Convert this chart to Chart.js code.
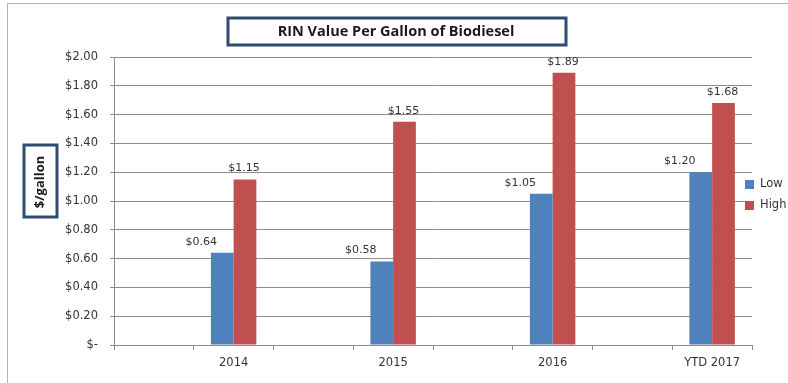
<!DOCTYPE html>
<html>
<head>
<meta charset="utf-8">
<script src="https://cdn.jsdelivr.net/npm/chart.js@4/dist/chart.umd.min.js"></script>
<style>
html,body{margin:0;padding:0;background:#fff;}
#wrap{width:788px;height:383px;position:relative;}
</style>
</head>
<body>
<div id="wrap"><canvas id="c" width="788" height="383"></canvas></div>
<script>
const categories = ["", "2014", "", "2015", "", "2016", "", "YTD 2017"];
const lowValues  = [null, 0.64, null, 0.58, null, 1.05, null, 1.20];
const highValues = [null, 1.15, null, 1.55, null, 1.89, null, 1.68];
const seriesNames = ["Low", "High"];
const chartTitle = "RIN Value Per Gallon of Biodiesel";
const yAxisTitle = "$/gallon";

const FONT = "'DejaVu Sans', sans-serif";
const TFONT = "'Open Sans', 'DejaVu Sans', sans-serif";
const BLUE = "#4f81bd", RED = "#c0504d";

function money(v){ return v === 0 ? "$-" : "$" + v.toFixed(2); }

const extras = {
  id: "extras",
  afterDraw(chart){
    const ctx = chart.ctx;
    ctx.save();
    // outer border
    ctx.strokeStyle = "#b4b4b4"; ctx.lineWidth = 1;
    ctx.strokeRect(7.5, 3.5, 800, 400);
    // title box
    ctx.strokeStyle = "#2f4b6e"; ctx.lineWidth = 3;
    ctx.strokeRect(228, 18, 338, 27);
    ctx.fillStyle = "#1a1a1a";
    ctx.font = "bold 14.5px " + TFONT;
    ctx.textAlign = "center"; ctx.textBaseline = "middle";
    ctx.fillText(chartTitle, 396, 31.5);
    // y axis title box
    ctx.strokeRect(24, 145, 33, 72);
    ctx.save();
    ctx.translate(40, 182);
    ctx.rotate(-Math.PI/2);
    ctx.font = "bold 13px " + TFONT;
    ctx.fillText(yAxisTitle, 0, 0);
    ctx.restore();
    // data labels
    ctx.font = "11px " + FONT;
    ctx.fillStyle = "#333";
    chart.data.datasets.forEach((ds, di) => {
      const meta = chart.getDatasetMeta(di);
      meta.data.forEach((bar, i) => {
        const v = ds.data[i];
        if (v == null) return;
        const dx = di === 0 ? -21 : -1;
        ctx.fillText(money(v), bar.x + dx, bar.y - 11);
      });
    });
    // legend
    ctx.textAlign = "left";
    ctx.font = "11.5px " + FONT;
    const items = [[seriesNames[0], BLUE, 184], [seriesNames[1], RED, 205]];
    items.forEach(([t, c, y]) => {
      ctx.fillStyle = c;
      ctx.fillRect(745, y - 4, 9, 9);
      ctx.fillStyle = "#333";
      ctx.fillText(t, 760, y);
    });
    ctx.restore();
  }
};

new Chart(document.getElementById("c"), {
  type: "bar",
  data: {
    labels: categories,
    datasets: [
      { label: seriesNames[0], data: lowValues, backgroundColor: BLUE, categoryPercentage: 0.57, barPercentage: 1.0 },
      { label: seriesNames[1], data: highValues, backgroundColor: RED, categoryPercentage: 0.57, barPercentage: 1.0 }
    ]
  },
  options: {
    responsive: false,
    animation: false,
    layout: { padding: { left: 0, right: 36, top: 57, bottom: 0 } },
    plugins: { legend: { display: false }, title: { display: false }, tooltip: { enabled: false } },
    scales: {
      x: {
        grid: { display: true, drawOnChartArea: false, drawTicks: true, tickLength: 5, color: "#8c8c8c", offset: true },
        border: { color: "#8c8c8c" },
        ticks: { autoSkip: false, maxRotation: 0, color: "#333", font: { family: FONT, size: 11.5 }, padding: 6 },
        afterFit(s){ s.height = 38; }
      },
      y: {
        min: 0, max: 2,
        ticks: { stepSize: 0.2, color: "#333", font: { family: FONT, size: 11.5 }, padding: 12,
          callback: v => money(v) },
        grid: { color: "#8c8c8c", tickLength: 4 },
        border: { color: "#8c8c8c" },
        afterFit(s){ s.width = 114; }
      }
    }
  },
  plugins: [extras]
});
</script>
</body>
</html>
